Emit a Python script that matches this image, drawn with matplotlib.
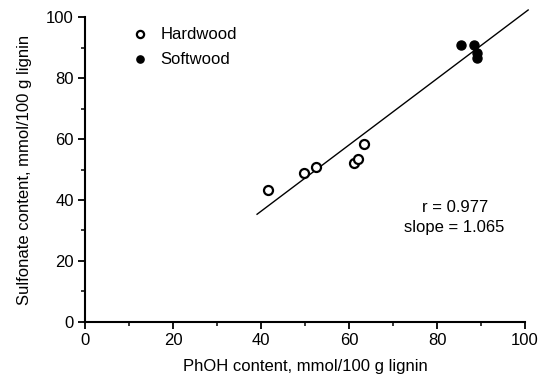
import matplotlib
matplotlib.use("Agg")
import matplotlib.pyplot as plt
from matplotlib.ticker import MultipleLocator

# data
hard_x = [41.6, 49.8, 52.4, 61.2, 62.0, 63.5]
hard_y = [43.3, 48.9, 50.7, 52.2, 53.5, 58.4]
soft_x = [85.5, 88.5, 89.0, 89.0]
soft_y = [90.9, 90.9, 88.2, 86.5]
fit_x = [39.1, 100.7]
fit_y = [35.3, 102.4]

plt.rcParams['font.family'] = ['Liberation Sans', 'DejaVu Sans']

fig = plt.figure(figsize=(5.43, 3.76), dpi=100)
ax = fig.add_axes([0.1565, 0.1444, 0.8105, 0.8096])

ax.plot(fit_x, fit_y, color='black', lw=1.0, clip_on=False, zorder=1)
ax.plot(hard_x, hard_y, 'o', ms=6.5, mfc='white', mec='black', mew=1.6,
        linestyle='none', label='Hardwood', zorder=3)
ax.plot(soft_x, soft_y, 'o', ms=6.5, mfc='black', mec='black', mew=1.0,
        linestyle='none', label='Softwood', zorder=3)

ax.set_xlim(0, 100)
ax.set_ylim(0, 100)
ax.xaxis.set_major_locator(MultipleLocator(20))
ax.xaxis.set_minor_locator(MultipleLocator(10))
ax.yaxis.set_major_locator(MultipleLocator(20))
ax.yaxis.set_minor_locator(MultipleLocator(10))

for s in ['top', 'right']:
    ax.spines[s].set_visible(False)
for s in ['left', 'bottom']:
    ax.spines[s].set_linewidth(1.5)

ax.tick_params(which='major', direction='out', length=5, width=1.3, labelsize=12, pad=3)
ax.tick_params(which='minor', direction='out', length=3, width=1.1)

ax.set_xlabel('PhOH content, mmol/100 g lignin', fontsize=12, labelpad=8)
ax.set_ylabel('Sulfonate content, mmol/100 g lignin', fontsize=12, labelpad=10)

ax.legend(loc='upper left', bbox_to_anchor=(0.08, 1.005), frameon=False,
          fontsize=12, handletextpad=0.7, borderaxespad=0.3, labelspacing=0.6,
          handlelength=1.0, markerscale=0.8)

ax.text(0.84, 0.375, 'r = 0.977', transform=ax.transAxes, ha='center', va='center', fontsize=12)
ax.text(0.84, 0.31, 'slope = 1.065', transform=ax.transAxes, ha='center', va='center', fontsize=12)

fig.savefig('out.png', dpi=100)
